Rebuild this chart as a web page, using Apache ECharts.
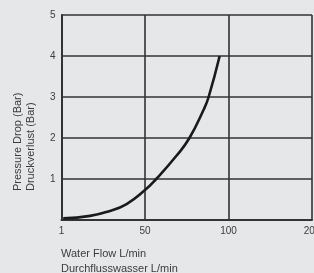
<!DOCTYPE html>
<html>
<head>
<meta charset="utf-8">
<script src="https://cdn.jsdelivr.net/npm/echarts@6/dist/echarts.min.js"></script>
<style>
  html, body { margin: 0; padding: 0; background: #e6e7e8; }
  #chart { width: 314px; height: 273px; }
</style>
</head>
<body>
<div id="chart"></div>
<script>
// x axis tick labels (L/min), drawn evenly spaced like the original sheet
const flowTicks = [1, 50, 100, 200];
const pressureTicks = [1, 2, 3, 4, 5];
// curve: flow (L/min) and pressure drop (bar)
const flow = [2, 17.8, 28.5, 39.2, 50, 56.7, 68.7, 76.6, 85.1, 88.1, 94.7];
const pressure = [0.04, 0.1, 0.21, 0.39, 0.73, 1.0, 1.56, 2.0, 2.69, 3.0, 4.0];

// position of a flow value on the evenly spaced tick axis
const flowToIndex = (f) => {
    for (let i = 0; i < flowTicks.length - 1; i++) {
        if (f <= flowTicks[i + 1]) {
            return i + (f - flowTicks[i]) / (flowTicks[i + 1] - flowTicks[i]);
        }
    }
    return flowTicks.length - 1;
};

const initChart = () => {
    let myChart = echarts.init(document.getElementById('chart'));
    const textColor = '#3c3c3c';
    const lineColor = '#333';
    let option = {
        backgroundColor: '#e6e7e8',
        animation: false,
        grid: { left: 61.5, right: 2, top: 15, bottom: 53, outerBoundsMode: 'none' },
        xAxis: {
            type: 'value',
            min: 0,
            max: flowTicks.length - 1,
            interval: 1,
            axisLine: { lineStyle: { color: lineColor, width: 2 } },
            axisTick: { show: false },
            splitLine: { lineStyle: { color: lineColor, width: 1.6 } },
            axisLabel: {
                color: textColor,
                fontFamily: 'Liberation Sans',
                fontSize: 10,
                margin: 6,
                formatter: (v) => String(flowTicks[Math.round(v)])
            }
        },
        yAxis: {
            type: 'value',
            min: 0,
            max: pressureTicks[pressureTicks.length - 1],
            interval: 1,
            axisLine: { show: true, lineStyle: { color: lineColor, width: 2 } },
            axisTick: { show: false },
            splitLine: { lineStyle: { color: lineColor, width: 1.6 } },
            axisLabel: {
                color: textColor,
                fontFamily: 'Liberation Sans',
                fontSize: 10,
                margin: 6,
                formatter: (v) => (pressureTicks.includes(v) ? String(v) : '')
            }
        },
        series: [
            {
                type: 'line',
                smooth: 0.5,
                showSymbol: false,
                data: flow.map((f, i) => [flowToIndex(f), pressure[i]]),
                lineStyle: { color: '#1a1a1a', width: 2.6 }
            }
        ],
        graphic: [
            {
                type: 'text',
                x: 24,
                y: 191,
                rotation: Math.PI / 2,
                style: {
                    text: 'Pressure Drop (Bar)\nDruckverlust (Bar)',
                    fill: textColor,
                    font: '11px "Liberation Sans"',
                    lineHeight: 13,
                    align: 'left',
                    verticalAlign: 'middle'
                }
            },
            {
                type: 'text',
                x: 61,
                y: 246,
                style: {
                    text: 'Water Flow L/min\nDurchflusswasser L/min',
                    fill: textColor,
                    font: '11px "Liberation Sans"',
                    lineHeight: 15,
                    align: 'left',
                    verticalAlign: 'top'
                }
            }
        ]
    };
    myChart.setOption(option);
};

initChart();
</script>
</body>
</html>
